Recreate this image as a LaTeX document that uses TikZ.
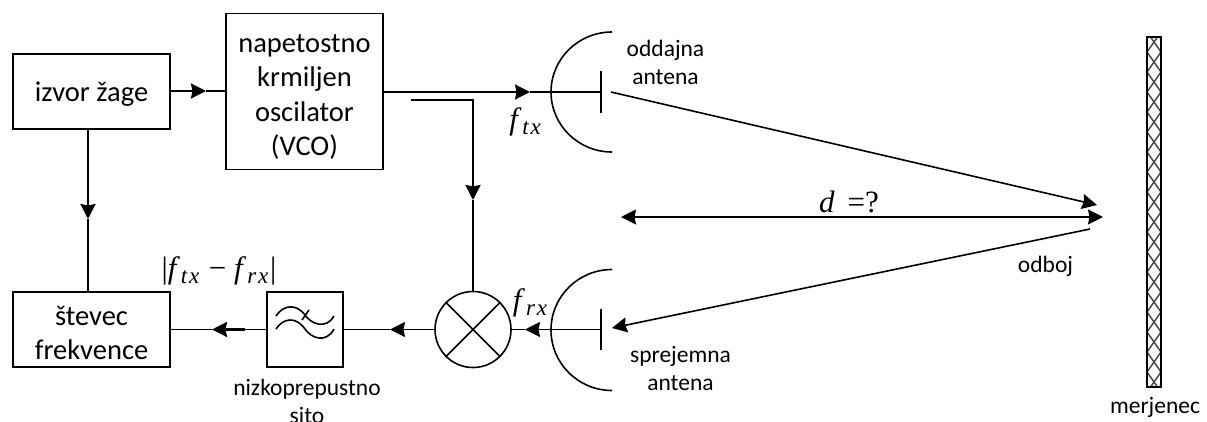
\documentclass[tikz,border=0pt]{standalone}
\usepackage{fontspec}
\setmainfont{Carlito}
\newfontfamily\mathtextfont{Liberation Serif}
\newcommand{\fsub}[1]{\textit{f}\kern1pt\raisebox{-5pt}{\fontsize{23}{23}\selectfont\addfontfeatures{LetterSpace=8}\textit{#1}}}
\usetikzlibrary{arrows.meta}
\tikzset{
  wire/.style={line width=1.6pt},
  thickwire/.style={line width=2.2pt},
  arr/.style={-{Stealth[length=15pt,width=15pt,inset=1.5pt]}},
  darr/.style={{Stealth[length=15pt,width=15pt,inset=1.5pt]}-{Stealth[length=15pt,width=15pt,inset=1.5pt]}},
  blockbox/.style={draw,line width=1.6pt,inner sep=0pt,align=center,font=\fontsize{28.5}{34.5}\selectfont},
  medium/.style={inner sep=0pt,align=center,font=\fontsize{23.5}{28}\selectfont},
  mathlabel/.style={inner sep=0pt,font=\mathtextfont\fontsize{31}{36}\selectfont},
}
\begin{document}
\begin{tikzpicture}[x=1pt,y=-1pt]
\useasboundingbox (0,0) rectangle (1207,421);
% blocks
\node[blockbox,minimum width=157pt,minimum height=75pt] (izvor) at (91.5,91.5) {\rule{0pt}{25pt}izvor žage};
\node[blockbox,minimum width=157pt,minimum height=156pt] (vco) at (304.5,91.5) {\rule{0pt}{29pt}napetostno\\krmiljen\\oscilator\\(VCO)};
\node[blockbox,minimum width=157pt,minimum height=75pt] (stevec) at (91.5,329.5) {\rule{0pt}{26pt}števec\\frekvence};
\node[blockbox,minimum width=76pt,minimum height=75pt] (filter) at (305,329.5) {};
\node[draw,circle,line width=1.6pt,minimum size=76pt,inner sep=0pt] (mix) at (473,329.5) {};
\draw[wire] (mix.45) -- (mix.225) (mix.135) -- (mix.315);
% filter symbol
\draw[wire] (276,316) .. controls (283,305) and (296,303) .. (305,315) .. controls (311,324) and (326,330) .. (334,316);
\draw[wire] (276,329) .. controls (283,318) and (296,316) .. (305,329) .. controls (311,338) and (326,344) .. (334,329);
\draw[wire] (302,320) -- (309,310);
% antennas
\coordinate (txbar) at (601,92);
\coordinate (rxbar) at (601,329.5);
\draw[wire] (612,32) arc[start angle=-90,end angle=-270,x radius=61,y radius=60];
\draw[wire] (612,269.5) arc[start angle=-90,end angle=-270,x radius=61,y radius=60.5];
\draw[line width=2pt] (601,71) -- (txbar) -- (601,113);
\draw[line width=2pt] (601,309) -- (rxbar) -- (601,350);
% connectors
\coordinate (a1) at (206,91);
\draw[thickwire,arr] (izvor.east |- a1) -- (a1);
\draw[wire] (a1) -- (vco.west |- a1);
\coordinate (a2) at (530,92);
\draw[thickwire,arr] (vco.east |- a2) -- (a2);
\draw[wire] (a2) -- (txbar);
\coordinate (b0) at (411,100);
\coordinate (b1) at (473,100);
\coordinate (b2) at (473,200);
\draw[wire] (b0) -- (b1) -- (473,150);
\draw[thickwire,arr] (473,150) -- (b2);
\draw[wire] (b2) -- (mix.north);
\coordinate (c1) at (88,219);
\draw[wire] (izvor.south -| c1) -- (88,170);
\draw[thickwire,arr] (88,170) -- (c1);
\draw[wire] (c1) -- (stevec.north -| c1);
\coordinate (d1) at (525,329.5);
\draw[wire,arr] (rxbar) -- (d1);
\draw[wire] (d1) -- (mix.east);
\coordinate (e1) at (390,329.5);
\draw[wire,arr] (mix.west) -- (e1);
\draw[wire] (e1) -- (filter.east);
\coordinate (f1) at (212,329.5);
\coordinate (f0) at (245,329.5);
\draw[wire] (filter.west) -- (f0);
\draw[thickwire,arr] (f0) -- (f1);
\draw[wire] (f1) -- (stevec.east);
% propagation
\coordinate (tx0) at (611,92);
\coordinate (tx1) at (1097,205);
\coordinate (dl) at (621,217);
\coordinate (dr) at (1103,217);
\coordinate (rx0) at (1090,229);
\coordinate (rx1) at (612,328);
\draw[wire,arr] (tx0) -- (tx1);
\draw[wire,darr] (dl) -- (dr);
\draw[wire,arr] (rx0) -- (rx1);
% target
\begin{scope}
\clip (1147,37) rectangle (1161,387);
\foreach \k in {-1,...,18}{
  \draw[line width=1.5pt,black!70] (1147,{32+20*\k}) -- (1161,{32+20*\k+20});
  \draw[line width=1.5pt,black!70] (1161,{32+20*\k}) -- (1147,{32+20*\k+20});
}
\end{scope}
\node[draw,line width=2pt,minimum width=14pt,minimum height=350pt,inner sep=0pt] (target) at (1154,212) {};
% labels
\node[medium] (tx) at (665.5,62) {oddajna\\antena};
\node[medium] (rx) at (680.5,368) {sprejemna\\antena};
\node[medium] (odboj) at (1045.5,266) {odboj};
\node[medium] (merj) at (1155,407) {merjenec};
\node[medium] (nizko) at (307,401.5) {nizkoprepustno\\sito};
\node[mathlabel] (lftx) at (526,122) {\fsub{tx}};
\node[mathlabel] (lfrx) at (531,303) {\fsub{rx}};
\node[mathlabel] (ldiff) at (219,271) {|\fsub{tx} − \fsub{rx}|};
\node[mathlabel] (ld) at (849,202) {\textit{d} \,=?};
\end{tikzpicture}
\end{document}
